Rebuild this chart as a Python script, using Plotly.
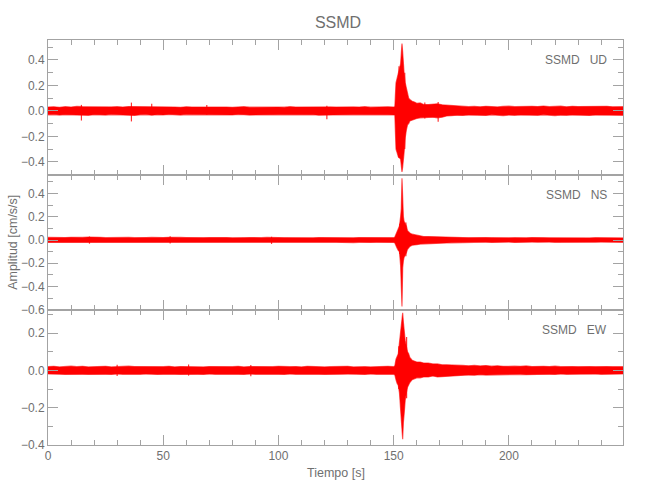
import plotly.graph_objects as go
from plotly.subplots import make_subplots

# ---------------- data ----------------
# Sample times [s] of the trace envelope (shared by the three components)
TIME = [
    0, 2.5, 5, 7.5, 10, 12.5, 15, 17.5, 20, 22.5,
    25, 27.5, 30, 32.5, 35, 37.5, 40, 42.5, 45, 47.5,
    50, 52.5, 55, 57.5, 60, 62.5, 65, 67.5, 70, 72.5,
    75, 77.5, 80, 82.5, 85, 87.5, 90, 92.5, 95, 97.5,
    100, 102.5, 105, 107.5, 110, 112.5, 115, 117.5, 120, 122.5,
    125, 127.5, 130, 132.5, 135, 137.5, 140, 142.5, 145, 147.5,
    150, 150.5, 151, 151.5, 152, 152.5, 153, 153.3, 153.6, 153.9,
    154.2, 154.5, 155, 155.5, 156, 156.5, 157, 158, 159, 160,
    161.5, 163, 165, 167, 169, 171, 173, 175, 177.5, 180,
    182.5, 185, 187.5, 190, 192.5, 195, 197.5, 200, 202.5, 205,
    207.5, 210, 212.5, 215, 217.5, 220, 222.5, 225, 227.5, 230,
    232.5, 235, 237.5, 240, 242.5, 245, 247.5, 250,
]

# UD component: upper / lower envelope [cm/s/s]
UD_HI = [
    0.030, 0.032, 0.028, 0.033, 0.030, 0.035, 0.033, 0.032, 0.030, 0.034,
    0.029, 0.031, 0.033, 0.030, 0.034, 0.034, 0.030, 0.032, 0.033, 0.031,
    0.029, 0.033, 0.030, 0.028, 0.032, 0.030, 0.031, 0.032, 0.030, 0.029,
    0.032, 0.030, 0.028, 0.031, 0.033, 0.029, 0.030, 0.032, 0.028, 0.031,
    0.030, 0.029, 0.033, 0.030, 0.031, 0.028, 0.030, 0.034, 0.032, 0.031,
    0.030, 0.032, 0.029, 0.031, 0.030, 0.033, 0.029, 0.031, 0.030, 0.032,
    0.030, 0.035, 0.22, 0.26, 0.31, 0.34, 0.37, 0.45, 0.53, 0.46,
    0.36, 0.30, 0.22, 0.17, 0.12, 0.10, 0.09, 0.075, 0.07, 0.06,
    0.062, 0.05, 0.05, 0.052, 0.055, 0.048, 0.045, 0.04, 0.035, 0.036,
    0.033, 0.035, 0.032, 0.036, 0.034, 0.031, 0.035, 0.037, 0.033, 0.035,
    0.032, 0.036, 0.034, 0.038, 0.033, 0.035, 0.037, 0.032, 0.036, 0.034,
    0.035, 0.033, 0.037, 0.034, 0.036, 0.032, 0.035, 0.033,
]
UD_LO = [
    -0.031, -0.029, -0.033, -0.030, -0.032, -0.034, -0.033, -0.035, -0.030, -0.031,
    -0.033, -0.029, -0.030, -0.032, -0.034, -0.036, -0.031, -0.029, -0.034, -0.030,
    -0.032, -0.028, -0.031, -0.033, -0.029, -0.030, -0.032, -0.031, -0.029, -0.033,
    -0.030, -0.031, -0.032, -0.028, -0.030, -0.033, -0.031, -0.029, -0.032, -0.030,
    -0.031, -0.033, -0.029, -0.030, -0.032, -0.031, -0.030, -0.034, -0.033, -0.031,
    -0.029, -0.032, -0.030, -0.031, -0.033, -0.029, -0.030, -0.032, -0.031, -0.030,
    -0.032, -0.034, -0.30, -0.33, -0.36, -0.37, -0.38, -0.44, -0.48, -0.44,
    -0.41, -0.33, -0.21, -0.15, -0.11, -0.10, -0.08, -0.07, -0.065, -0.06,
    -0.055, -0.055, -0.05, -0.05, -0.055, -0.05, -0.04, -0.038, -0.034, -0.036,
    -0.032, -0.035, -0.033, -0.036, -0.031, -0.034, -0.037, -0.033, -0.035, -0.032,
    -0.036, -0.033, -0.035, -0.031, -0.034, -0.037, -0.033, -0.035, -0.032, -0.036,
    -0.034, -0.036, -0.032, -0.035, -0.033, -0.036, -0.034, -0.035,
]
# isolated short spikes in the UD trace (time, top, bottom)
UD_SPIKE_T = [14.5, 36.2, 45.0, 68.9, 121.0, 152.3, 154.8, 163.5, 169.3]
UD_SPIKE_HI = [0.047, 0.065, 0.055, 0.047, 0.040, 0.35, 0.30, 0.065, 0.070]
UD_SPIKE_LO = [-0.076, -0.083, -0.030, -0.030, -0.065, -0.37, -0.30, -0.06, -0.085]

# NS component
NS_HI = [
    0.022, 0.020, 0.024, 0.021, 0.023, 0.020, 0.022, 0.025, 0.021, 0.023,
    0.020, 0.022, 0.021, 0.024, 0.022, 0.020, 0.023, 0.021, 0.022, 0.020,
    0.021, 0.023, 0.020, 0.022, 0.021, 0.019, 0.022, 0.020, 0.021, 0.023,
    0.020, 0.021, 0.019, 0.022, 0.020, 0.021, 0.018, 0.020, 0.022, 0.019,
    0.021, 0.020, 0.019, 0.021, 0.020, 0.022, 0.019, 0.021, 0.020, 0.019,
    0.021, 0.020, 0.022, 0.019, 0.021, 0.020, 0.019, 0.021, 0.020, 0.022,
    0.020, 0.025, 0.05, 0.08, 0.10, 0.12, 0.20, 0.27, 0.53, 0.28,
    0.20, 0.16, 0.14, 0.12, 0.08, 0.07, 0.06, 0.05, 0.045, 0.04,
    0.035, 0.03, 0.03, 0.028, 0.03, 0.027, 0.026, 0.025, 0.022, 0.021,
    0.020, 0.022, 0.019, 0.021, 0.020, 0.018, 0.021, 0.019, 0.020, 0.018,
    0.019, 0.021, 0.018, 0.020, 0.019, 0.018, 0.020, 0.019, 0.018, 0.020,
    0.019, 0.018, 0.020, 0.019, 0.018, 0.020, 0.019, 0.018,
]
NS_LO = [
    -0.021, -0.023, -0.020, -0.024, -0.022, -0.021, -0.023, -0.020, -0.022, -0.021,
    -0.023, -0.020, -0.022, -0.021, -0.024, -0.022, -0.020, -0.022, -0.021, -0.023,
    -0.020, -0.021, -0.023, -0.020, -0.022, -0.021, -0.020, -0.022, -0.019, -0.021,
    -0.022, -0.020, -0.021, -0.019, -0.021, -0.020, -0.022, -0.019, -0.020, -0.021,
    -0.019, -0.021, -0.020, -0.022, -0.019, -0.020, -0.021, -0.019, -0.022, -0.020,
    -0.020, -0.021, -0.019, -0.022, -0.020, -0.019, -0.021, -0.020, -0.022, -0.019,
    -0.021, -0.025, -0.05, -0.07, -0.09, -0.10, -0.22, -0.30, -0.57, -0.24,
    -0.18, -0.15, -0.13, -0.11, -0.08, -0.07, -0.055, -0.045, -0.04, -0.04,
    -0.035, -0.03, -0.03, -0.028, -0.03, -0.027, -0.025, -0.024, -0.022, -0.021,
    -0.019, -0.021, -0.020, -0.018, -0.021, -0.019, -0.020, -0.018, -0.021, -0.019,
    -0.020, -0.018, -0.019, -0.021, -0.018, -0.020, -0.019, -0.018, -0.020, -0.019,
    -0.018, -0.020, -0.019, -0.018, -0.020, -0.019, -0.018, -0.020,
]
NS_SPIKE_T = [18.0, 53.0, 97.0, 152.6, 155.3]
NS_SPIKE_HI = [0.030, 0.032, 0.028, 0.14, 0.15]
NS_SPIKE_LO = [-0.032, -0.030, -0.034, -0.12, -0.14]

# EW component
EW_HI = [
    0.020, 0.022, 0.019, 0.021, 0.023, 0.020, 0.022, 0.019, 0.021, 0.020,
    0.022, 0.019, 0.021, 0.020, 0.023, 0.021, 0.020, 0.022, 0.019, 0.021,
    0.020, 0.022, 0.019, 0.021, 0.020, 0.022, 0.020, 0.019, 0.021, 0.020,
    0.019, 0.021, 0.020, 0.022, 0.019, 0.021, 0.020, 0.019, 0.021, 0.020,
    0.022, 0.019, 0.020, 0.021, 0.019, 0.022, 0.020, 0.021, 0.019, 0.020,
    0.021, 0.020, 0.022, 0.019, 0.021, 0.020, 0.019, 0.021, 0.020, 0.022,
    0.020, 0.025, 0.06, 0.08, 0.09, 0.15, 0.22, 0.26, 0.29, 0.31,
    0.26, 0.22, 0.16, 0.13, 0.10, 0.09, 0.07, 0.055, 0.05, 0.045,
    0.045, 0.04, 0.04, 0.035, 0.035, 0.03, 0.03, 0.03, 0.028, 0.027,
    0.025, 0.027, 0.024, 0.026, 0.023, 0.025, 0.022, 0.024, 0.023, 0.022,
    0.024, 0.021, 0.023, 0.022, 0.021, 0.023, 0.020, 0.022, 0.021, 0.020,
    0.022, 0.021, 0.020, 0.022, 0.021, 0.020, 0.021, 0.020,
]
EW_LO = [
    -0.019, -0.021, -0.020, -0.022, -0.019, -0.021, -0.020, -0.022, -0.019, -0.021,
    -0.020, -0.022, -0.019, -0.021, -0.020, -0.022, -0.021, -0.019, -0.020, -0.022,
    -0.021, -0.019, -0.020, -0.022, -0.019, -0.021, -0.020, -0.022, -0.019, -0.021,
    -0.020, -0.019, -0.021, -0.020, -0.022, -0.019, -0.021, -0.020, -0.019, -0.021,
    -0.020, -0.022, -0.019, -0.021, -0.020, -0.019, -0.021, -0.020, -0.022, -0.019,
    -0.021, -0.020, -0.019, -0.021, -0.020, -0.022, -0.019, -0.021, -0.020, -0.019,
    -0.021, -0.024, -0.05, -0.07, -0.08, -0.12, -0.19, -0.25, -0.32, -0.37,
    -0.28, -0.24, -0.16, -0.12, -0.09, -0.08, -0.065, -0.05, -0.045, -0.04,
    -0.04, -0.035, -0.035, -0.03, -0.035, -0.03, -0.03, -0.03, -0.027, -0.026,
    -0.024, -0.026, -0.023, -0.025, -0.022, -0.024, -0.021, -0.023, -0.022, -0.021,
    -0.023, -0.020, -0.022, -0.021, -0.020, -0.022, -0.019, -0.021, -0.020, -0.019,
    -0.021, -0.020, -0.019, -0.021, -0.020, -0.019, -0.020, -0.019,
]
EW_SPIKE_T = [30.0, 61.0, 88.0, 152.2, 155.6]
EW_SPIKE_HI = [0.030, 0.032, 0.029, 0.13, 0.18]
EW_SPIKE_LO = [-0.030, -0.028, -0.031, -0.10, -0.15]

STATION = "SSMD"
COMPONENTS = ["UD", "NS", "EW"]
Y_RANGES = [[-0.504, 0.557], [-0.601, 0.558], [-0.401, 0.325]]
X_RANGE = [0, 249.5]
X_TITLE = "Tiempo [s]"
Y_TITLE = "Amplitud [cm/s/s]"

# ---------------- figure ----------------
FONT = "Liberation Sans, Arial, sans-serif"
TXT = "#6f6f6f"
AX = "#a3a3a3"
RED = "#ff0000"

fig = make_subplots(rows=3, cols=1, shared_xaxes=True, vertical_spacing=0)

series = [
    (UD_HI, UD_LO, UD_SPIKE_T, UD_SPIKE_HI, UD_SPIKE_LO),
    (NS_HI, NS_LO, NS_SPIKE_T, NS_SPIKE_HI, NS_SPIKE_LO),
    (EW_HI, EW_LO, EW_SPIKE_T, EW_SPIKE_HI, EW_SPIKE_LO),
]
for i, (hi, lo, st, sh, sl) in enumerate(series):
    xs = list(TIME) + list(TIME[::-1])
    ys = list(hi) + list(lo[::-1])
    fig.add_trace(
        go.Scatter(x=xs, y=ys, mode="lines", fill="toself",
                   fillcolor=RED, line=dict(color="rgba(255,0,0,0.6)", width=1.2),
                   showlegend=False, hoverinfo="skip"),
        row=i + 1, col=1)
    sx, sy = [], []
    for t, a, b in zip(st, sh, sl):
        sx += [t, t, None]
        sy += [b, a, None]
    fig.add_trace(
        go.Scatter(x=sx, y=sy, mode="lines",
                   line=dict(color="rgba(255,0,0,0.8)", width=1.2),
                   showlegend=False, hoverinfo="skip"),
        row=i + 1, col=1)

domains = [[2 / 3, 1.0], [1 / 3, 2 / 3], [0.0, 1 / 3]]
for i in range(3):
    fig.update_yaxes(
        row=i + 1, col=1, domain=domains[i], range=Y_RANGES[i],
        dtick=0.2, tick0=0, tickformat=".1f",
        ticks="inside", ticklen=10, tickcolor=AX, tickwidth=1,
        minor=dict(ticks="inside", ticklen=5, dtick=0.1, tick0=0, tickcolor=AX),
        showline=True, linecolor=AX, linewidth=1, mirror="ticks",
        showgrid=False, zeroline=False, automargin=False,
        tickfont=dict(family=FONT, size=12, color=TXT))
    fig.update_xaxes(
        row=i + 1, col=1, range=X_RANGE, dtick=50, tick0=0,
        ticks="inside", ticklen=10, tickcolor=AX, tickwidth=1,
        minor=dict(ticks="inside", ticklen=5, dtick=10, tick0=0, tickcolor=AX),
        showline=True, linecolor=AX, linewidth=1, mirror="ticks",
        showgrid=False, zeroline=False, automargin=False,
        tickfont=dict(family=FONT, size=12, color=TXT))

yref_names = ["y domain", "y2 domain", "y3 domain"]
for i, comp in enumerate(COMPONENTS):
    fig.add_annotation(
        xref="x domain", yref=yref_names[i], x=0.9757, y=0.85,
        xanchor="right", yanchor="middle", showarrow=False,
        text=STATION + "\u00a0\u00a0\u00a0" + comp,
        font=dict(family=FONT, size=12, color=TXT))

fig.add_annotation(xref="paper", yref="paper", x=0.501, y=-0.069,
                   xanchor="center", yanchor="middle", showarrow=False,
                   text=X_TITLE, font=dict(family=FONT, size=12.5, color=TXT))
fig.add_annotation(xref="paper", yref="paper", x=-0.062, y=0.5,
                   xanchor="center", yanchor="middle", showarrow=False,
                   textangle=-90,
                   text=Y_TITLE, font=dict(family=FONT, size=12.5, color=TXT))

fig.update_layout(
    width=650, height=500,
    margin=dict(l=48, r=27, t=40, b=55),
    paper_bgcolor="white", plot_bgcolor="white",
    title=dict(text=STATION, x=0.52, xanchor="center",
               y=1 - 22 / 500, yanchor="middle", yref="container",
               font=dict(family=FONT, size=16, color=TXT)),
)

fig.write_html("out.html",
               config={"displayModeBar": False},
               post_script="document.body.style.margin='0';")
